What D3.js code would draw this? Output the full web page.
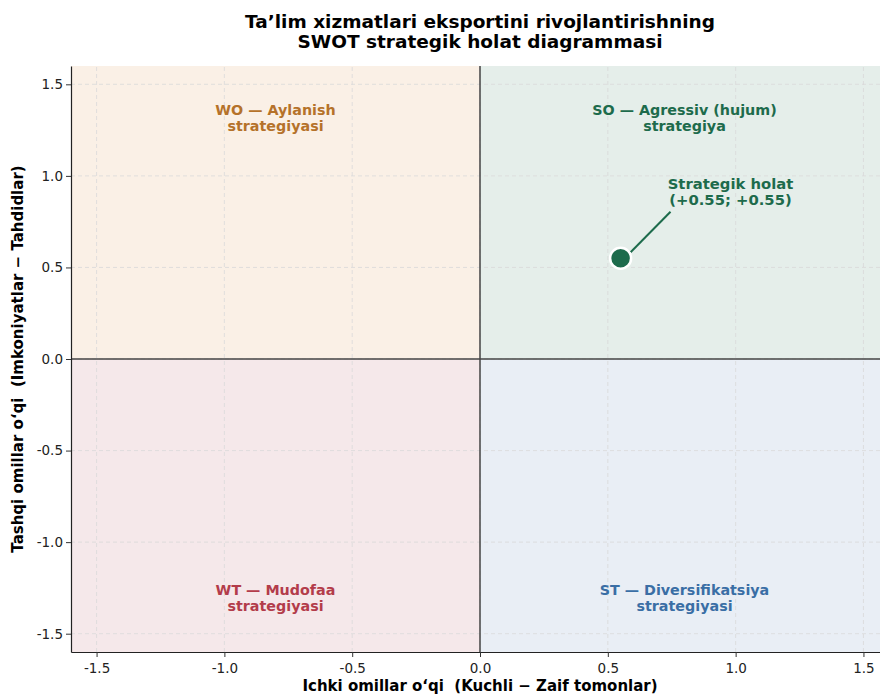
<!DOCTYPE html>
<html lang="uz">
<head>
<meta charset="UTF-8">
<title>SWOT diagramma</title>
<script src="https://cdn.jsdelivr.net/npm/d3@7"></script>
<style>
    body { margin: 0; background: #fff; }
    svg text { font-family: 'DejaVu Sans', sans-serif; white-space: pre; }
    .grid line { stroke: #d9d9d9; stroke-dasharray: 4,3; stroke-width: 0.8; }
    .axis text { font-size: 13.5px; fill: #222; }
    .axis line { stroke: #333; }
</style>
</head>
<body>
<svg id="img" width="880" height="695"></svg>
<script>
    // data
    var xTicks = [-1.5, -1.0, -0.5, 0.0, 0.5, 1.0, 1.5];
    var yTicks = [-1.5, -1.0, -0.5, 0.0, 0.5, 1.0, 1.5];
    var quadrants = [
        {name: "WO", x0: -1.6, x1: 0, y0: 0, y1: 1.6, fill: "#faf0e6", color: "#b5722a",
         lines: ["WO \u2014 Aylanish", "strategiyasi"], lx: -0.8, ly: 1.32},
        {name: "SO", x0: 0, x1: 1.6, y0: 0, y1: 1.6, fill: "#e5eeea", color: "#1d6b4c",
         lines: ["SO \u2014 Agressiv (hujum)", "strategiya"], lx: 0.8, ly: 1.32},
        {name: "WT", x0: -1.6, x1: 0, y0: -1.6, y1: 0, fill: "#f5e8ea", color: "#b33c4a",
         lines: ["WT \u2014 Mudofaa", "strategiyasi"], lx: -0.8, ly: -1.3},
        {name: "ST", x0: 0, x1: 1.6, y0: -1.6, y1: 0, fill: "#e9eef5", color: "#3a6ea5",
         lines: ["ST \u2014 Diversifikatsiya", "strategiyasi"], lx: 0.8, ly: -1.3}
    ];
    var position = {x: 0.55, y: 0.55};
    var annotText = ["Strategik holat", "(+0.55; +0.55)"];
    var annotAt = {x: 0.98, y: 0.93};

    var vis = d3.select("#img"),
        xRange = d3.scaleLinear().domain([-1.6, 1.6]).range([71, 889]),
        yRange = d3.scaleLinear().domain([-1.6, 1.6]).range([652, 66]);

    var plot = vis.append("g");
    vis.append("clipPath").attr("id", "clip").append("rect")
        .attr("x", 71).attr("y", 66).attr("width", 809).attr("height", 586);
    plot.attr("clip-path", "url(#clip)");

    plot.selectAll("rect.q").data(quadrants).enter().append("rect")
        .attr("class", "q")
        .attr("x", function (d) { return xRange(d.x0); })
        .attr("y", function (d) { return yRange(d.y1); })
        .attr("width", function (d) { return xRange(d.x1) - xRange(d.x0); })
        .attr("height", function (d) { return yRange(d.y0) - yRange(d.y1); })
        .attr("fill", function (d) { return d.fill; });

    // grid
    var grid = plot.append("g").attr("class", "grid");
    grid.selectAll("line.gx").data(xTicks).enter().append("line")
        .attr("x1", xRange).attr("x2", xRange)
        .attr("y1", yRange(-1.6)).attr("y2", yRange(1.6));
    grid.selectAll("line.gy").data(yTicks).enter().append("line")
        .attr("y1", yRange).attr("y2", yRange)
        .attr("x1", xRange(-1.6)).attr("x2", xRange(1.6));

    // zero lines
    plot.append("line").attr("x1", xRange(0)).attr("x2", xRange(0))
        .attr("y1", yRange(-1.6)).attr("y2", yRange(1.6))
        .attr("stroke", "#444").attr("stroke-width", 1.5);
    plot.append("line").attr("y1", yRange(0)).attr("y2", yRange(0))
        .attr("x1", xRange(-1.6)).attr("x2", xRange(1.6))
        .attr("stroke", "#444").attr("stroke-width", 1.5);

    // quadrant labels
    quadrants.forEach(function (q) {
        var t = plot.append("text")
            .attr("x", xRange(q.lx)).attr("y", yRange(q.ly))
            .attr("text-anchor", "middle")
            .attr("fill", q.color)
            .attr("font-size", "14.3px").attr("font-weight", "bold");
        q.lines.forEach(function (l, i) {
            t.append("tspan").attr("x", xRange(q.lx))
                .attr("dy", i === 0 ? "-0.15em" : "1.1em").text(l);
        });
    });

    // annotation arrow
    var px = xRange(position.x), py = yRange(position.y);
    var ax = xRange(annotAt.x) - 60, ay = yRange(annotAt.y) + 23;
    plot.append("line").attr("x1", ax).attr("y1", ay)
        .attr("x2", px + 10).attr("y2", py - 6)
        .attr("stroke", "#1d6b4c").attr("stroke-width", 2);
    plot.append("circle").attr("cx", px).attr("cy", py).attr("r", 10.5)
        .attr("fill", "#1d6b4c").attr("stroke", "#fff").attr("stroke-width", 2.5);
    var at = plot.append("text")
        .attr("x", xRange(annotAt.x)).attr("y", yRange(annotAt.y))
        .attr("text-anchor", "middle").attr("fill", "#1d6b4c")
        .attr("font-size", "14.8px").attr("font-weight", "bold");
    annotText.forEach(function (l, i) {
        at.append("tspan").attr("x", xRange(annotAt.x))
            .attr("dy", i === 0 ? "0" : "1.12em").text(l);
    });

    // axes
    var fmt = d3.format(".1f");
    var xAxis = d3.axisBottom(xRange).tickValues(xTicks).tickSize(5).tickSizeOuter(0)
        .tickFormat(function (d) { return fmt(d).replace("\u2212", "-"); });
    var yAxis = d3.axisLeft(yRange).tickValues(yTicks).tickSize(5).tickSizeOuter(0)
        .tickFormat(function (d) { return fmt(d).replace("\u2212", "-"); });

    var gx = vis.append("g").attr("class", "axis")
        .attr("transform", "translate(0," + yRange(-1.6) + ")").call(xAxis);
    gx.select(".domain").attr("stroke", "#222").attr("stroke-width", 1.2);
    gx.selectAll("text").attr("dy", "0.95em");
    var gy = vis.append("g").attr("class", "axis")
        .attr("transform", "translate(" + xRange(-1.6) + ",0)").call(yAxis);
    gy.select(".domain").attr("stroke", "#222").attr("stroke-width", 1.2);

    // titles
    var title = vis.append("text").attr("x", 480).attr("y", 28)
        .attr("text-anchor", "middle").attr("font-size", "18.5px").attr("font-weight", "bold");
    title.append("tspan").attr("x", 480).text("Ta\u2019lim xizmatlari eksportini rivojlantirishning");
    title.append("tspan").attr("x", 480).attr("dy", "1.1em").text("SWOT strategik holat diagrammasi");

    vis.append("text").attr("x", xRange(0)).attr("y", 690.5)
        .attr("text-anchor", "middle").attr("font-size", "15px").attr("font-weight", "bold")
        .text("Ichki omillar o\u2018qi  (Kuchli \u2212 Zaif tomonlar)");
    vis.append("text")
        .attr("transform", "translate(23," + yRange(0) + ") rotate(-90)")
        .attr("text-anchor", "middle").attr("font-size", "15px").attr("font-weight", "bold")
        .text("Tashqi omillar o\u2018qi  (Imkoniyatlar \u2212 Tahdidlar)");
</script>
</body>
</html>
